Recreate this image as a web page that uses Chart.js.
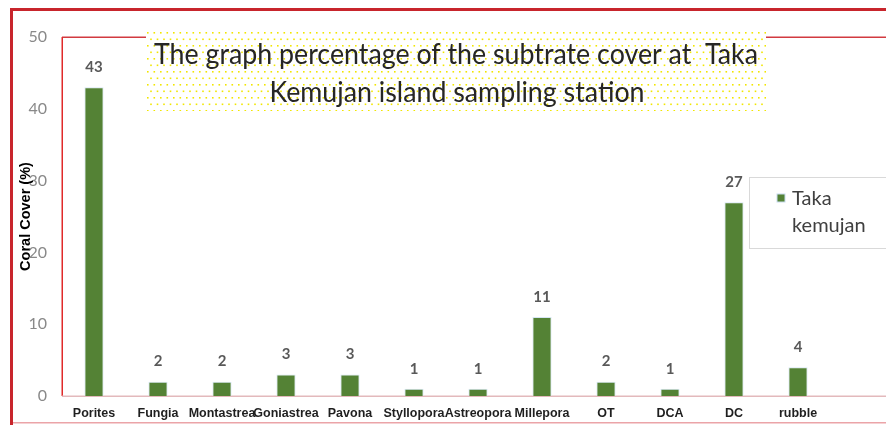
<!DOCTYPE html>
<html>
<head>
<meta charset="utf-8">
<script src="https://cdn.jsdelivr.net/npm/chart.js@4.4.1/dist/chart.umd.min.js"></script>
<style>
  html, body { margin: 0; padding: 0; background: #ffffff; }
  #wrap { position: relative; width: 886px; height: 425px; }
</style>
</head>
<body>
<div id="wrap"><canvas id="c" width="886" height="425"></canvas></div>
<script>
// ---- data ----
const categories = ['Porites', 'Fungia', 'Montastrea', 'Goniastrea', 'Pavona', 'Styllopora', 'Astreopora', 'Millepora', 'OT', 'DCA', 'DC', 'rubble'];
const coverValues = [43, 2, 2, 3, 3, 1, 1, 11, 2, 1, 27, 4];
const seriesName = 'Taka kemujan';
const legendLines = ['Taka', 'kemujan'];
const yTickValues = [0, 10, 20, 30, 40, 50];
const titleLines = ['The graph percentage of the subtrate cover at  Taka', 'Kemujan island sampling station'];
const yAxisTitle = 'Coral Cover (%)';

// ---- decoration plugin ----
const decor = {
  id: 'decor',
  beforeDraw(chart) {
    const ctx = chart.ctx;
    const a = chart.chartArea;
    ctx.save();
    // outer frame
    ctx.fillStyle = '#c8252c';
    ctx.fillRect(10, 8, 876, 3);
    ctx.fillRect(10, 8, 3, 417);
    ctx.fillStyle = '#eba4a8';
    ctx.fillRect(13, 422, 873, 1.5);
    // inner top line and left line
    ctx.fillStyle = '#d23a40';
    ctx.fillRect(a.left, a.top - 0.5, 886 - a.left, 1.5);
    ctx.fillStyle = '#e02a2a';
    ctx.fillRect(a.left - 0.5, a.top, 1.5, a.bottom - a.top);
    // baseline
    ctx.fillStyle = '#e3b9bc';
    ctx.fillRect(a.left, a.bottom - 0.5, 886 - a.left, 1.5);
    ctx.restore();
  },
  afterDatasetsDraw(chart) {
    const ctx = chart.ctx;
    const meta = chart.getDatasetMeta(0);
    ctx.save();
    ctx.fillStyle = '#595959';
    ctx.font = 'bold 15px Lato';
    ctx.textAlign = 'center';
    ctx.textBaseline = 'middle';
    meta.data.forEach((bar, i) => {
      ctx.fillText(String(chart.data.datasets[0].data[i]), bar.x, bar.y - 20);
    });
    ctx.restore();
  },
  afterDraw(chart) {
    const ctx = chart.ctx;
    ctx.save();
    // title box with yellow dotted pattern
    const bx = 146, by = 31, bw = 620, bh = 80;
    ctx.fillStyle = '#ffffff';
    ctx.fillRect(bx, by, bw, bh);
    const pc = document.createElement('canvas');
    pc.width = 13; pc.height = 13;
    const p = pc.getContext('2d');
    p.fillStyle = '#f2e600';
    p.fillRect(1, 1, 1.6, 1.6);
    p.fillRect(7.5, 1, 1.6, 1.6);
    p.fillRect(4.2, 7.5, 1.6, 1.6);
    p.fillRect(10.7, 7.5, 1.6, 1.6);
    ctx.save();
    ctx.translate(bx, by);
    ctx.fillStyle = ctx.createPattern(pc, 'repeat');
    ctx.fillRect(0, 0, bw, bh);
    ctx.restore();
    // title text: Lato at the reference height, narrowed to the reference width
    const fs = 28;
    ctx.font = fs + 'px Lato';
    const w = ctx.measureText(titleLines[0]).width;
    const sx = 604 / w;
    ctx.fillStyle = '#262626';
    ctx.textAlign = 'center';
    ctx.textBaseline = 'alphabetic';
    ctx.save();
    ctx.translate(456, 0);
    ctx.scale(sx, 1);
    ctx.fillText(titleLines[0], 0, 64);
    ctx.fillText(titleLines[1], 1 / sx, 102);
    ctx.restore();

    // legend
    ctx.fillStyle = '#ffffff';
    ctx.fillRect(749.5, 177.5, 140, 71);
    ctx.strokeStyle = '#d9d9d9';
    ctx.lineWidth = 1;
    ctx.strokeRect(749.5, 177.5, 140, 71);
    ctx.fillStyle = '#548235';
    ctx.fillRect(777, 194, 8, 8);
    ctx.strokeStyle = '#c9dcef';
    ctx.strokeRect(777, 194, 8, 8);
    ctx.fillStyle = '#404040';
    ctx.font = '20px Lato';
    ctx.textAlign = 'left';
    ctx.textBaseline = 'middle';
    ctx.fillText(legendLines[0], 792, 199);
    ctx.fillText(legendLines[1], 792, 226);
    ctx.restore();
  }
};

new Chart(document.getElementById('c'), {
  type: 'bar',
  data: {
    labels: categories,
    datasets: [{
      label: seriesName,
      data: coverValues,
      backgroundColor: '#548235',
      borderColor: '#d6e6f4',
      borderWidth: 1,
      barPercentage: 0.3,
      categoryPercentage: 1.0
    }]
  },
  options: {
    responsive: false,
    devicePixelRatio: 1,
    animation: false,
    layout: { padding: { left: 10, top: 37, right: 56, bottom: 2 } },
    plugins: {
      legend: { display: false },
      title: { display: false },
      tooltip: { enabled: false }
    },
    scales: {
      x: {
        grid: { display: false, drawTicks: false },
        border: { display: false },
        ticks: {
          color: '#1f1f1f',
          font: { family: 'Liberation Sans', weight: 'bold', size: 12.5 },
          padding: 10,
          maxRotation: 0,
          autoSkip: false
        },
        afterFit(s) { s.height = 27; }
      },
      y: {
        min: 0,
        max: 50,
        afterBuildTicks(s) { s.ticks = yTickValues.map(v => ({ value: v })); },
        grid: { display: false, drawTicks: false },
        border: { display: false },
        ticks: {
          color: '#898989',
          font: { family: 'Lato', size: 16 },
          padding: 15
        },
        title: {
          display: true,
          text: yAxisTitle,
          color: '#000000',
          font: { family: 'Liberation Sans', weight: 'bold', size: 14.5 },
          padding: { top: 7, bottom: 0 }
        },
        afterFit(s) { s.width = 52; }
      }
    }
  },
  plugins: [decor]
});
</script>
</body>
</html>
